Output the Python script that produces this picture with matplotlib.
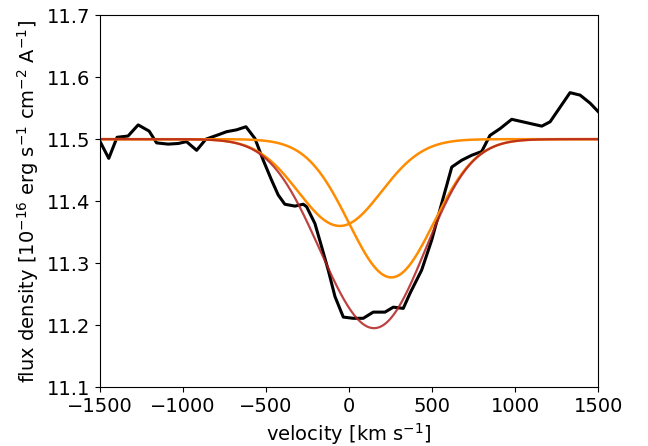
import numpy as np
import matplotlib.pyplot as plt

# observed spectrum around the line (velocity in km/s, flux in 1e-16 erg/s/cm2/A)
vel_obs = [-1500, -1446, -1396, -1330, -1269, -1203, -1158, -1089, -1028, -978,
           -917, -861, -787, -737, -677, -620, -566, -516, -466, -426,
           -386, -325, -275, -255, -205, -164, -125, -84, -34, 26,
           86, 146, 217, 267, 327, 367, 438, 498, 558, 619,
           679, 739, 799, 849, 910, 980, 1161, 1211, 1331, 1392,
           1452, 1502]
flux_obs = [11.497, 11.469, 11.503, 11.505, 11.523, 11.513, 11.494, 11.492, 11.493, 11.496,
            11.482, 11.500, 11.507, 11.512, 11.515, 11.520, 11.501, 11.466, 11.434, 11.410,
            11.395, 11.392, 11.395, 11.391, 11.364, 11.326, 11.289, 11.246, 11.213, 11.211,
            11.211, 11.221, 11.221, 11.229, 11.227, 11.251, 11.289, 11.337, 11.396, 11.455,
            11.466, 11.474, 11.480, 11.506, 11.517, 11.532, 11.521, 11.528, 11.575, 11.571,
            11.558, 11.544]

# two gaussian absorption components on a flat continuum
continuum = 11.5
amp = [0.140, 0.223]
cen = [-55.0, 255.0]
sig = [250.0, 255.0]

v = np.linspace(-1500, 1500, 1000)

def gauss(x, a, c, s):
    return a * np.exp(-(x - c)**2 / (2.0 * s**2))

comp1 = continuum - gauss(v, amp[0], cen[0], sig[0])
comp2 = continuum - gauss(v, amp[1], cen[1], sig[1])
total = continuum - gauss(v, amp[0], cen[0], sig[0]) - gauss(v, amp[1], cen[1], sig[1])

plt.rcParams['font.size'] = 14
fig = plt.figure(figsize=(6.48, 4.46), dpi=100)
ax = fig.add_axes([0.154, 0.132, 0.769, 0.834])

ax.plot(vel_obs, flux_obs, 'k-', linewidth=2.2)
ax.plot(v, comp1, color='darkorange', linewidth=1.8)
ax.plot(v, comp2, color='darkorange', linewidth=1.8)
ax.plot(v, total, color='firebrick', linewidth=1.6, alpha=0.85)

ax.set_xlim(-1500, 1500)
ax.set_ylim(11.1, 11.7)
ax.set_xlabel(r'velocity [km s$^{-1}$]')
ax.set_ylabel(r'flux density [10$^{-16}$ erg s$^{-1}$ cm$^{-2}$ A$^{-1}$]')

plt.savefig('out.png', dpi=100)
